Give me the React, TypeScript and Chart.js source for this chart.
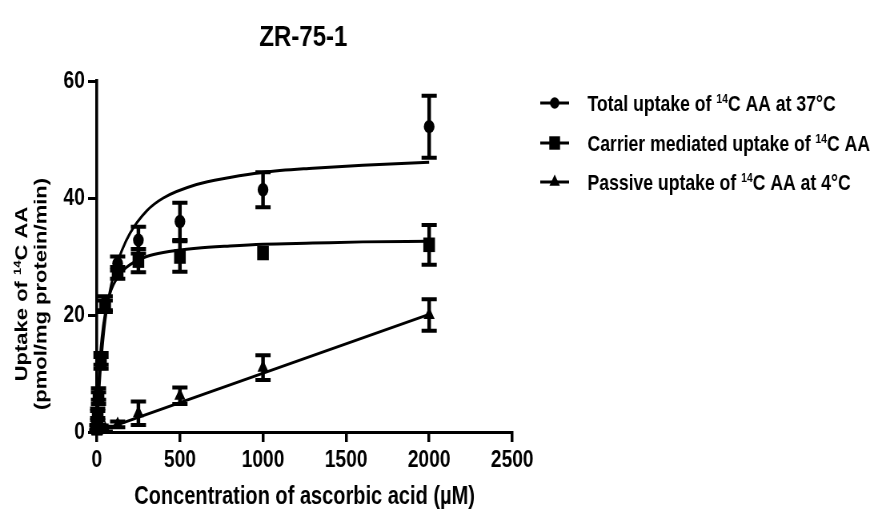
import React, { useEffect, useRef } from 'react';
import { Chart, registerables } from 'chart.js';

Chart.register(...registerables);

// ---- data ----
const concentrations = [1, 5, 10, 25, 50, 125, 250, 500, 1000, 2000];
const totalUptake = [0.8, 3.2, 6.5, 12.5, 22.0, 28.8, 32.8, 36.0, 41.4, 52.2];
const totalErr = [0.4, 0.8, 1.0, 1.0, 1.2, 1.2, 2.3, 3.2, 3.0, 5.3];
const carrierUptake = [0.7, 2.8, 5.8, 11.8, 21.5, 27.2, 29.3, 30.0, 30.6, 32.0];
const carrierErr = [0.4, 0.8, 1.0, 1.0, 1.0, 1.0, 2.0, 2.6, 0, 3.4];
const passiveUptake = [0.1, 0.3, 0.6, 0.6, 0.5, 1.3, 3.2, 6.2, 11.0, 20.0];
const passiveErr = [0.1, 0.3, 0.5, 0.5, 0.4, 0.5, 2.0, 1.4, 2.1, 2.7];

// fitted curves
const fitX = [0, 5, 10, 20, 30, 50, 75, 100, 150, 200, 300, 400, 600, 800, 1000, 1300, 1600, 2000];
const totalFit = [0, 2.8, 5.3, 9.8, 13.4, 19.0, 23.5, 26.8, 31.0, 34.0, 37.8, 40.0, 42.3, 43.5, 44.4, 45.1, 45.6, 46.1];
const carrierFit = [0, 4.5, 8.0, 12.9, 16.1, 20.3, 23.3, 25.2, 27.4, 28.6, 30.0, 30.7, 31.4, 31.8, 32.1, 32.3, 32.5, 32.6];
const passiveFitX = [0, 2000];
const passiveFit = [0, 20.1];

const xTicks = [0, 500, 1000, 1500, 2000, 2500];
const yTicks = [0, 20, 40, 60];

const titleText = 'ZR-75-1';
const xTitle = 'Concentration of ascorbic acid (\u00b5M)';
const yTitle1 = [{ t: 'Uptake of ' }, { t: '14', sup: true }, { t: 'C AA' }];
const yTitle2 = [{ t: '(pmol/mg protein/min)' }];
const legendItems = [
  { style: 'circle', parts: [{ t: 'Total uptake of ' }, { t: '14', sup: true }, { t: 'C AA at 37\u00b0C' }] },
  { style: 'rect', parts: [{ t: 'Carrier mediated uptake of ' }, { t: '14', sup: true }, { t: 'C AA' }] },
  { style: 'triangle', parts: [{ t: 'Passive uptake of ' }, { t: '14', sup: true }, { t: 'C AA at 4\u00b0C' }] },
];

// ---- layout (unscaled canvas space, displayed squeezed horizontally) ----
const W = 1102;
const H = 511;
const SX = 882 / W;
const FONT = '"Liberation Sans", Arial, Helvetica, sans-serif';

type Part = { t: string; sup?: boolean };

function drawRich(ctx: CanvasRenderingContext2D, parts: Part[], x: number, baseline: number, size: number, weight: string, align: 'left' | 'center') {
  const supSize = Math.round(size * 0.6);
  const fontN = `${weight} ${size}px ${FONT}`;
  const fontS = `${weight} ${supSize}px ${FONT}`;
  let total = 0;
  const widths = parts.map((p) => {
    ctx.font = p.sup ? fontS : fontN;
    const w = ctx.measureText(p.t).width;
    total += w;
    return w;
  });
  let cx = align === 'center' ? x - total / 2 : x;
  ctx.textAlign = 'left';
  ctx.textBaseline = 'alphabetic';
  parts.forEach((p, i) => {
    ctx.font = p.sup ? fontS : fontN;
    ctx.fillText(p.t, cx, p.sup ? baseline - size * 0.36 : baseline);
    cx += widths[i];
  });
}

function drawMarker(ctx: CanvasRenderingContext2D, style: string, x: number, y: number, r: number) {
  ctx.beginPath();
  if (style === 'circle') {
    ctx.arc(x, y, r, 0, Math.PI * 2);
  } else if (style === 'rect') {
    const s = Math.SQRT1_2 * r;
    ctx.rect(x - s, y - s, 2 * s, 2 * s);
  } else {
    let rad = 0;
    ctx.moveTo(x + Math.sin(rad) * r, y - Math.cos(rad) * r);
    rad += (2 * Math.PI) / 3;
    ctx.lineTo(x + Math.sin(rad) * r, y - Math.cos(rad) * r);
    rad += (2 * Math.PI) / 3;
    ctx.lineTo(x + Math.sin(rad) * r, y - Math.cos(rad) * r);
    ctx.closePath();
  }
  ctx.fill();
}

const errorBarPlugin = {
  id: 'errorBars',
  afterDatasetsDraw(chart: any) {
    const { ctx } = chart;
    const xs = chart.scales.x;
    const ys = chart.scales.y;
    ctx.save();
    ctx.strokeStyle = '#000';
    ctx.lineCap = 'butt';
    chart.data.datasets.forEach((ds: any) => {
      if (!ds.errors) return;
      ds.data.forEach((p: any, j: number) => {
        const e = ds.errors[j];
        if (!e) return;
        const px = xs.getPixelForValue(p.x);
        const top = ys.getPixelForValue(p.y + e);
        const bot = ys.getPixelForValue(p.y - e);
        ctx.lineWidth = 4.5;
        ctx.beginPath();
        ctx.moveTo(px, top);
        ctx.lineTo(px, bot);
        ctx.stroke();
        ctx.lineWidth = 4;
        ctx.beginPath();
        ctx.moveTo(px - 9.5, top);
        ctx.lineTo(px + 9.5, top);
        ctx.moveTo(px - 9.5, bot);
        ctx.lineTo(px + 9.5, bot);
        ctx.stroke();
      });
    });
    ctx.restore();
  },
};

const textPlugin = {
  id: 'texts',
  afterDraw(chart: any) {
    const { ctx, chartArea } = chart;
    ctx.save();
    ctx.fillStyle = '#000';
    // title
    ctx.font = `bold 30px ${FONT}`;
    ctx.textAlign = 'center';
    ctx.textBaseline = 'middle';
    ctx.fillText(titleText, 379, 38);
    // x title
    ctx.font = `bold 25px ${FONT}`;
    ctx.fillText(xTitle, (chartArea.left + chartArea.right) / 2, 497);
    // y title (rotated)
    ctx.save();
    ctx.translate(26, 294);
    ctx.rotate(-Math.PI / 2);
    drawRich(ctx, yTitle1, 0, 22 * 0.358, 22, 'bold', 'center');
    ctx.restore();
    ctx.save();
    ctx.translate(50, 294);
    ctx.rotate(-Math.PI / 2);
    drawRich(ctx, yTitle2, 0, 22 * 0.358, 22, 'bold', 'center');
    ctx.restore();
    // legend
    const rows = [103, 143, 182];
    const radii: Record<string, number> = { circle: 5.8, rect: 9.5, triangle: 7.5 };
    legendItems.forEach((it, i) => {
      const y = rows[i];
      ctx.strokeStyle = '#000';
      ctx.lineWidth = 3;
      ctx.beginPath();
      ctx.moveTo(675, y);
      ctx.lineTo(711, y);
      ctx.stroke();
      drawMarker(ctx, it.style, 693, y, radii[it.style]);
      drawRich(ctx, it.parts, 734, y + 22 * 0.358, 22, 'bold', 'left');
    });
    ctx.restore();
  },
};

function pts(xs: number[], ys: number[]) {
  return xs.map((x, i) => ({ x, y: ys[i] }));
}

export default function App() {
  const ref = useRef<HTMLCanvasElement>(null);
  useEffect(() => {
    const canvas = ref.current;
    if (!canvas) return;
    const fitStyle = {
      showLine: true,
      borderColor: '#000',
      borderWidth: 3,
      pointRadius: 0,
      pointHoverRadius: 0,
      fill: false,
      cubicInterpolationMode: 'monotone' as const,
    };
    const markStyle = {
      showLine: false,
      backgroundColor: '#000',
      borderColor: '#000',
      pointBorderWidth: 0,
      clip: false as const,
    };
    const chart = new Chart(canvas, {
      type: 'scatter',
      data: {
        datasets: [
          { label: 'Total fit', data: pts(fitX, totalFit), ...fitStyle },
          { label: 'Carrier fit', data: pts(fitX, carrierFit), ...fitStyle },
          { label: 'Passive fit', data: pts(passiveFitX, passiveFit), ...fitStyle },
          { label: 'Total uptake of 14C AA at 37\u00b0C', data: pts(concentrations, totalUptake), errors: totalErr, pointStyle: 'circle', pointRadius: 6.7, ...markStyle } as any,
          { label: 'Carrier mediated uptake of 14C AA', data: pts(concentrations, carrierUptake), errors: carrierErr, pointStyle: 'rect', pointRadius: 10.3, ...markStyle } as any,
          { label: 'Passive uptake of 14C AA at 4\u00b0C', data: pts(concentrations, passiveUptake), errors: passiveErr, pointStyle: 'triangle', pointRadius: 8, ...markStyle } as any,
        ],
      },
      options: {
        responsive: false,
        animation: false,
        devicePixelRatio: 1,
        layout: { padding: { left: 0, right: W - 640, top: 81, bottom: 0 } },
        plugins: {
          legend: { display: false },
          title: { display: false },
          tooltip: { enabled: false },
        },
        scales: {
          x: {
            type: 'linear',
            min: 0,
            max: 2500,
            afterBuildTicks: (s: any) => {
              s.ticks = xTicks.map((v) => ({ value: v }));
            },
            afterFit: (s: any) => {
              s.height = H - 432;
            },
            ticks: {
              color: '#000',
              font: { family: FONT, size: 24, weight: 'bold' },
              padding: 4,
              maxRotation: 0,
              autoSkip: false,
              callback: (v: any) => String(v),
            },
            grid: {
              drawOnChartArea: false,
              drawTicks: true,
              tickLength: 10,
              color: '#000',
              lineWidth: 3.5,
            },
            border: { display: true, color: '#000', width: 3 },
          },
          y: {
            type: 'linear',
            min: 0,
            max: 60,
            afterBuildTicks: (s: any) => {
              s.ticks = yTicks.map((v) => ({ value: v }));
            },
            afterFit: (s: any) => {
              s.width = 121;
            },
            ticks: {
              color: '#000',
              font: { family: FONT, size: 24, weight: 'bold' },
              padding: 4,
              autoSkip: false,
              callback: (v: any) => String(v),
            },
            grid: {
              drawOnChartArea: false,
              drawTicks: true,
              tickLength: 11,
              color: '#000',
              lineWidth: 3,
            },
            border: { display: true, color: '#000', width: 3.6 },
          },
        },
      },
      plugins: [errorBarPlugin, textPlugin],
    });
    return () => chart.destroy();
  }, []);

  return (
    <div style={{ position: 'fixed', left: 0, top: 0, width: 882, height: 511, overflow: 'hidden', background: '#fff' }}>
      <div style={{ width: W, height: H, transform: `scaleX(${SX})`, transformOrigin: '0 0' }}>
        <canvas ref={ref} width={W} height={H} style={{ display: 'block', width: W, height: H }} />
      </div>
    </div>
  );
}
